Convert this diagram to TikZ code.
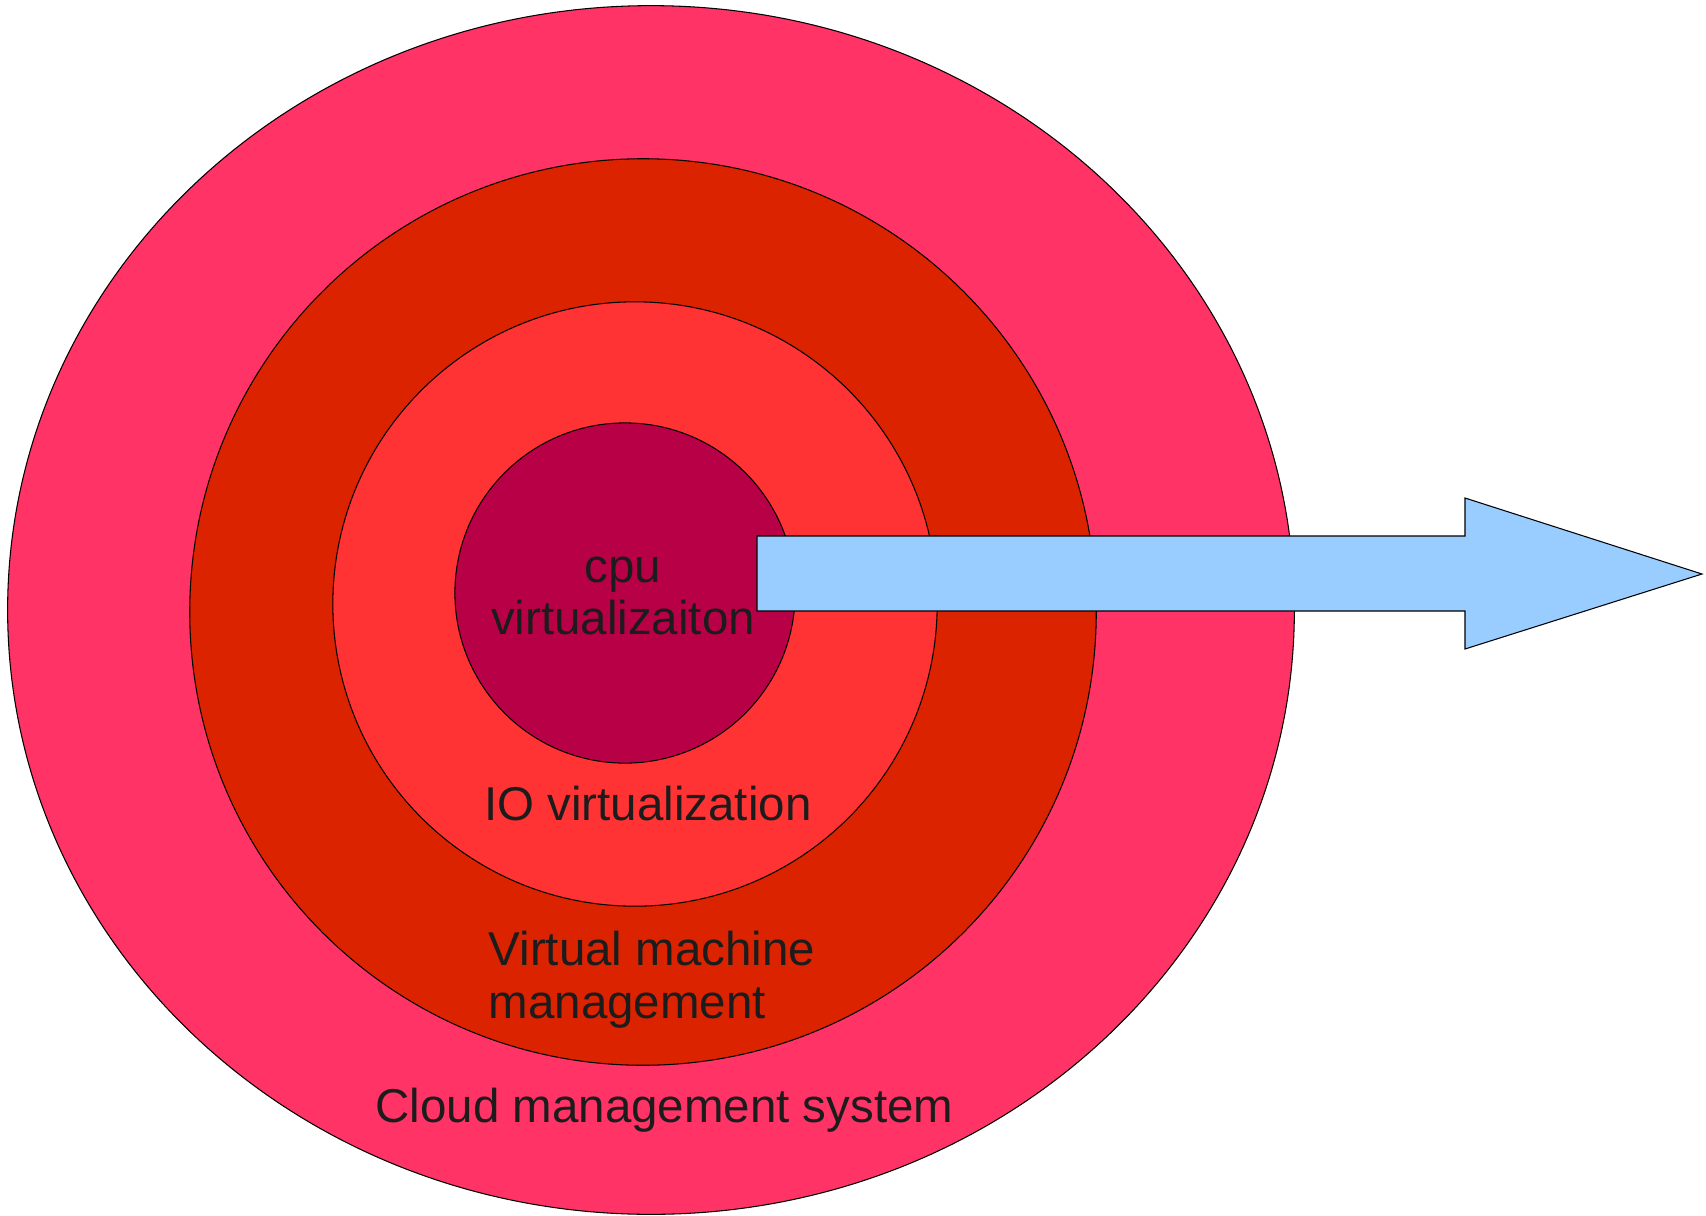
\documentclass[tikz,border=0pt]{standalone}
\usepackage{fontspec}
\setmainfont{Liberation Sans}
\definecolor{cloudColor}{HTML}{FF3366}
\definecolor{vmColor}{HTML}{DC2300}
\definecolor{ioColor}{HTML}{FF3333}
\definecolor{cpuColor}{HTML}{B80047}
\definecolor{arrowColor}{HTML}{99CCFF}
\definecolor{textColor}{HTML}{1C1C1C}

\begin{document}
\begin{tikzpicture}[x=0.01cm, y=-0.01cm,
    ring/.style={draw=black, line width=0.3pt},
    label/.style={text=textColor, inner sep=0pt, font=\fontsize{13.5}{15}\selectfont}]
    \useasboundingbox (0,0) rectangle (1706,1215);

    % layers, from outside in
    \filldraw[ring, fill=cloudColor] (651,610) ellipse (6.43cm and 6.04cm);
    \filldraw[ring, fill=vmColor] (643,612) circle (4.53cm);
    \filldraw[ring, fill=ioColor] (635,604) circle (3.02cm);
    \filldraw[ring, fill=cpuColor] (625,593) circle (1.70cm);

    \node[label, align=center] (cpu) at (623,596) {cpu\\virtualizaiton};
    \node[label, anchor=base] (io) at (648,820) {IO virtualization};
    \node[label, align=left, anchor=west] (vm) at (488,980) {Virtual machine\\management};
    \node[label, anchor=base] (cloud) at (664.5,1122) {Cloud management system};

    % arrow
    \filldraw[ring, fill=arrowColor] (757,536) -- (1465,536) -- (1465,498) -- (1702,574)
        -- (1465,649) -- (1465,611) -- (757,611) -- cycle;
\end{tikzpicture}
\end{document}
